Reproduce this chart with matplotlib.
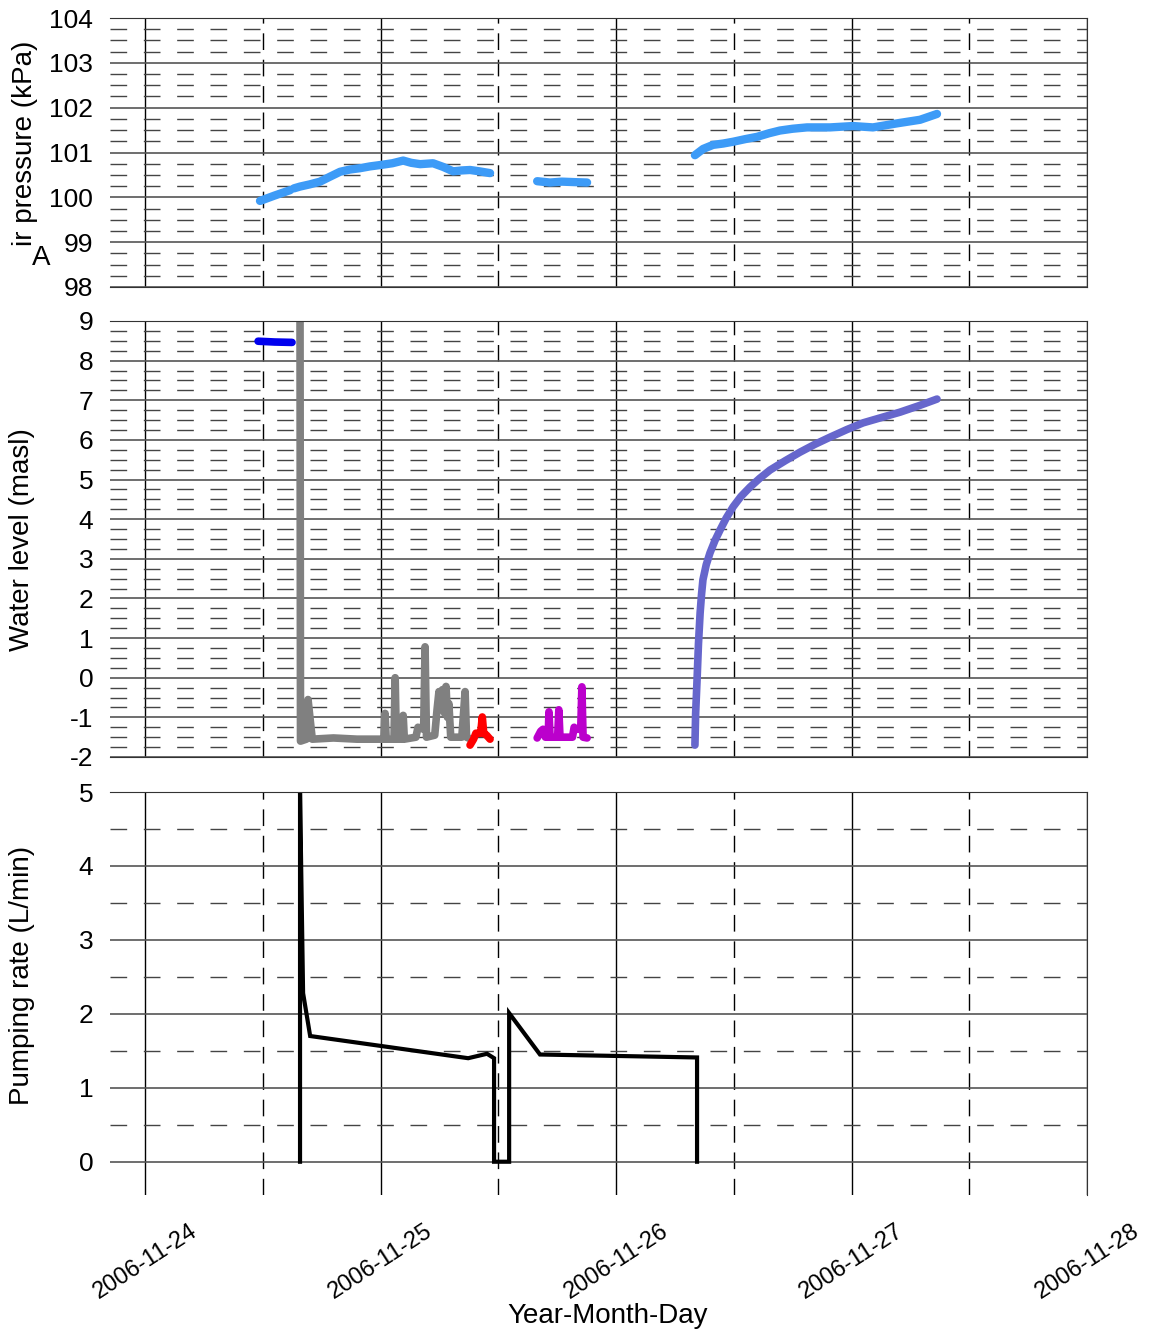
import numpy as np
import pandas as pd
import matplotlib
matplotlib.use("Agg")
import matplotlib.pyplot as plt
import matplotlib.dates as mdates
from matplotlib.ticker import MultipleLocator

plt.rcParams['font.family'] = ['Liberation Sans', 'DejaVu Sans']
plt.rcParams['axes.unicode_minus'] = False

start = pd.Timestamp("2006-11-24")

# time in days since 2006-11-24 00:00
# air pressure (kPa)
ap1a_day = [0.488, 0.55, 0.616]
ap1a_kpa = [99.92, 100.04, 100.16]
ap1b_day = [0.632, 0.658, 0.70, 0.743, 0.785, 0.828, 0.87, 0.913, 0.955, 0.998, 1.05, 1.096,
            1.13, 1.168, 1.223, 1.265, 1.308, 1.345, 1.380, 1.42, 1.465]
ap1b_kpa = [100.20, 100.24, 100.29, 100.35, 100.46, 100.57, 100.62, 100.65, 100.69, 100.72,
            100.76, 100.82, 100.77, 100.74, 100.76, 100.68, 100.58, 100.60, 100.61, 100.58, 100.54]
ap2_day = [1.665, 1.72, 1.77, 1.82, 1.877]
ap2_kpa = [100.36, 100.33, 100.35, 100.34, 100.33]
ap3_day = [2.335, 2.37, 2.412, 2.455, 2.497, 2.55, 2.599, 2.65, 2.696, 2.75, 2.811, 2.909,
           3.006, 3.091, 3.193, 3.291, 3.363]
ap3_kpa = [100.94, 101.08, 101.17, 101.20, 101.24, 101.30, 101.35, 101.43, 101.49, 101.53,
           101.56, 101.56, 101.59, 101.56, 101.65, 101.73, 101.86]

# water level (masl)
static_day = [0.48, 0.55, 0.624]
static_wl = [8.49, 8.47, 8.46]
pump1_day = [0.658, 0.660, 0.685, 0.692, 0.700, 0.710, 0.80, 0.90, 1.00, 1.014, 1.019, 1.024,
             1.057, 1.062, 1.067, 1.091, 1.096, 1.101, 1.150, 1.159, 1.183, 1.189, 1.195,
             1.230, 1.240, 1.248, 1.253, 1.263, 1.272, 1.278, 1.284, 1.290, 1.298, 1.345,
             1.359, 1.365, 1.385]
pump1_wl = [9.0, -1.6, -1.55, -0.55, -1.0, -1.55, -1.52, -1.55, -1.55, -1.55, -0.9, -1.55,
            -1.55, 0.0, -1.55, -1.55, -0.95, -1.55, -1.5, -1.25, -1.3, 0.78, -1.5,
            -1.45, -0.8, -0.35, -0.8, -0.3, -0.9, -0.22, -1.0, -0.65, -1.5, -1.5,
            -0.35, -1.5, -1.55]
pump2_day = [1.380, 1.395, 1.405, 1.425, 1.432, 1.438, 1.450, 1.465]
pump2_wl = [-1.70, -1.55, -1.4, -1.4, -0.99, -1.4, -1.45, -1.55]
pump3_day = [1.665, 1.680, 1.690, 1.700, 1.712, 1.715, 1.720, 1.752, 1.757, 1.762, 1.815,
             1.822, 1.828, 1.850, 1.855, 1.860, 1.877]
pump3_wl = [-1.52, -1.35, -1.3, -1.5, -1.5, -0.86, -1.5, -1.5, -0.81, -1.5, -1.5,
            -1.25, -1.3, -1.3, -0.23, -1.5, -1.52]
recov_day = [2.335, 2.338, 2.344, 2.350, 2.357, 2.363, 2.369, 2.383, 2.399, 2.42, 2.442,
             2.468, 2.497, 2.53, 2.569, 2.61, 2.654, 2.72, 2.781, 2.845, 2.909, 2.98,
             3.049, 3.13, 3.206, 3.285, 3.363]
recov_wl = [-1.70, -0.9, -0.06, 0.85, 1.63, 2.10, 2.47, 2.85, 3.15, 3.46, 3.73, 4.03,
            4.31, 4.57, 4.81, 5.03, 5.24, 5.48, 5.69, 5.89, 6.07, 6.26, 6.43, 6.57,
            6.70, 6.86, 7.03]

# pumping rate (L/min)
rate_day = [0.658, 0.658, 0.671, 0.701, 1.372, 1.452, 1.482, 1.482, 1.546, 1.546, 1.677, 2.344, 2.344]
rate_lpm = [0.0, 5.0, 2.28, 1.70, 1.40, 1.46, 1.40, 0.0, 0.0, 2.01, 1.45, 1.41, 0.0]


def to_time(days):
    return start + pd.to_timedelta(np.asarray(days, dtype=float), unit="D")


W, H = 1152, 1333
fig = plt.figure(figsize=(W / 100, H / 100), dpi=100)


def rect(top, bottom, left=110, right=1087):
    return [left / W, 1 - bottom / H, (right - left) / W, (bottom - top) / H]


ax1 = fig.add_axes(rect(18, 287))
ax2 = fig.add_axes(rect(321, 757))
ax3 = fig.add_axes(rect(792, 1195))

xlo, xhi = to_time([-0.149, 4.0])


def style(ax, ylim, ymaj, ymin):
    ax.set_xlim(xlo, xhi)
    ax.set_ylim(*ylim)
    ax.set_axisbelow(True)
    ax.xaxis.set_major_locator(mdates.DayLocator())
    ax.xaxis.set_minor_locator(mdates.HourLocator(byhour=[12]))
    ax.xaxis.set_major_formatter(mdates.DateFormatter("%Y-%m-%d"))
    ax.yaxis.set_major_locator(MultipleLocator(ymaj))
    ax.yaxis.set_minor_locator(MultipleLocator(ymin))
    ax.grid(which="major", axis="x", color="black", lw=1)
    ax.grid(which="major", axis="y", color="#555555", lw=1.2)
    ax.grid(which="minor", axis="y", color="#444444", lw=1, linestyle=(0, (12, 12)))
    ax.grid(which="minor", axis="x", color="black", lw=1, linestyle=(0, (12, 7)))
    ax.tick_params(which="both", length=0, labelsize=19, pad=12)
    ax.spines["left"].set_visible(False)
    for s in ["top", "right", "bottom"]:
        ax.spines[s].set_color("#333333")


style(ax1, (98, 104), 1, 0.25)
style(ax2, (-2, 9), 1, 0.25)
style(ax3, (-0.45, 5), 1, 0.5)
ax3.spines["bottom"].set_visible(False)
ax1.tick_params(labelbottom=False)
ax2.tick_params(labelbottom=False)

lkw = dict(solid_capstyle="round", solid_joinstyle="round")
sky = "#3d9bf7"
for d, v in [(ap1a_day, ap1a_kpa), (ap1b_day, ap1b_kpa), (ap2_day, ap2_kpa), (ap3_day, ap3_kpa)]:
    ax1.plot(to_time(d), v, color=sky, lw=6, **lkw)

ax2.plot(to_time(static_day), static_wl, color="#0000ee", lw=5.5, **lkw)
ax2.plot(to_time(pump1_day), pump1_wl, color="#808080", lw=5.5, **lkw)
ax2.plot(to_time(pump2_day), pump2_wl, color="#ff0000", lw=5.5, **lkw)
ax2.plot(to_time(pump3_day), pump3_wl, color="#bb00cc", lw=5.5, **lkw)
ax2.plot(to_time(recov_day), recov_wl, color="#6666cc", lw=5.5, **lkw)

ax3.plot(to_time(rate_day), rate_lpm, color="black", lw=3, solid_joinstyle="miter")

ax3.tick_params(axis="x", pad=18)
for lab in ax3.get_xticklabels():
    lab.set_rotation(33)
    lab.set_ha("center")
    lab.set_fontsize(17)

fig.text(608 / W, 1 - 1316 / H, "Year-Month-Day", fontsize=20, ha="center", va="center")
fig.text(25 / W, 1 - 143 / H, "ir pressure (kPa)", fontsize=20, rotation=90, ha="center", va="center")
fig.text(41 / W, 1 - 258 / H, "A", fontsize=20, ha="center", va="center")
fig.text(22 / W, 1 - 540 / H, "Water level (masl)", fontsize=20, rotation=90, ha="center", va="center")
fig.text(22 / W, 1 - 975 / H, "Pumping rate (L/min)", fontsize=20, rotation=90, ha="center", va="center")

fig.savefig("out.png", dpi=100)
